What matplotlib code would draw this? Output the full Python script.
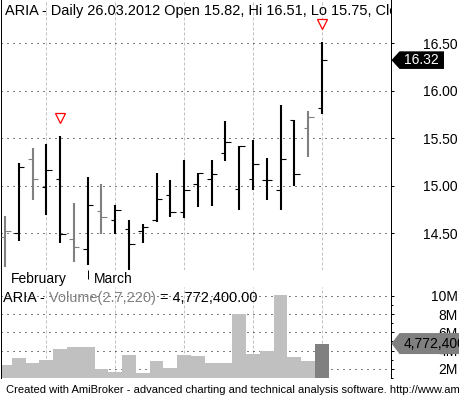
import pandas as pd
import matplotlib
matplotlib.use('Agg')
import matplotlib.pyplot as plt
from matplotlib.patches import Polygon
from matplotlib.transforms import Affine2D, ScaledTranslation, blended_transform_factory

# Arial-like font, dash lengths in points (not scaled with linewidth)
plt.rcParams['font.family'] = ['Liberation Sans', 'DejaVu Sans']
plt.rcParams['lines.scale_dashes'] = False

# ---- data ----
ticker = 'ARIA'
dates = ['2012-02-22', '2012-02-23', '2012-02-24', '2012-02-27', '2012-02-28', '2012-02-29',
         '2012-03-01', '2012-03-02', '2012-03-05', '2012-03-06', '2012-03-07', '2012-03-08',
         '2012-03-09', '2012-03-12', '2012-03-13', '2012-03-14', '2012-03-15', '2012-03-16',
         '2012-03-19', '2012-03-20', '2012-03-21', '2012-03-22', '2012-03-23', '2012-03-26']
opens = [14.46, 14.50, 15.28, 14.98, 15.07, 14.44, 14.33, 14.73, 14.64, 14.54, 14.52, 14.64,
         14.90, 14.72, 15.02, 15.07, 15.34, 14.96, 15.07, 15.06, 14.95, 15.69, 15.61, 15.82]
highs = [14.68, 15.24, 15.39, 15.44, 15.52, 14.82, 15.09, 15.02, 14.79, 14.64, 14.60, 15.13,
         15.06, 15.27, 15.13, 15.27, 15.68, 15.42, 15.48, 15.29, 15.85, 15.69, 15.78, 16.51]
lows = [14.14, 14.42, 14.85, 14.69, 14.39, 14.19, 14.16, 14.49, 14.49, 14.05, 14.40, 14.62,
        14.67, 14.66, 14.77, 14.78, 15.26, 14.74, 14.95, 14.85, 14.74, 15.00, 15.30, 15.75]
closes = [14.52, 15.20, 15.07, 15.16, 14.49, 14.35, 14.79, 14.67, 14.74, 14.38, 14.56, 14.86,
          14.72, 14.95, 15.13, 15.12, 15.46, 15.42, 15.23, 15.06, 15.28, 15.12, 15.72, 16.32]
volumes = [2.43, 3.15, 2.69, 2.96, 4.22, 4.36, 4.43, 1.94, 1.68, 3.57, 1.54, 2.86,
           2.07, 3.50, 3.36, 2.61, 2.61, 7.97, 3.68, 3.93, 10.05, 3.25, 2.86, 4.7724]  # millions
gray_bars = [0, 2, 5, 7, 22]
signal_bars = [4, 23]
price_ticks = [14.5, 15.0, 15.5, 16.0, 16.5]
vol_ticks = [2, 4, 6, 8, 10]
vol_tick_labels = ['2M', '4M', '6M', '8M', '10M']
footer = 'Created with AmiBroker - advanced charting and technical analysis software. http://www.amibroker.com'

W, H = 460, 397
fig = plt.figure(figsize=(W / 100, H / 100), dpi=100)


def px_axes(x0, y0, x1, y1):
    # axes placed by pixel box (top-left origin)
    return fig.add_axes([x0 / W, 1 - y1 / H, (x1 - x0) / W, (y1 - y0) / H])


ax = px_axes(0.5, 0, 391.5, 269.5)
ax_d = px_axes(0.5, 269.5, 391.5, 286.5)
ax_v = px_axes(0.5, 286.5, 391.5, 378)

n = len(dates)
dts = pd.to_datetime(dates)
xs = list(range(n))
xlim = (-0.327, 28.05)
mondays = [i for i in xs if dts[i].weekday() == 0]
bar_cols = ['#808080' if i in gray_bars else 'black' for i in xs]

dot = (0, (0.72, 3.6))
dash = (0, (2.16, 1.44))

for a in (ax, ax_d, ax_v):
    a.set_xlim(*xlim)
    a.set_facecolor('white')
    for s in a.spines.values():
        s.set_linewidth(0.72)
        s.set_color('black')
    a.spines['top'].set_visible(False)
    a.set_xticks([])

# ---- price pane ----
ax.set_ylim(14.116, 16.953)
for m in mondays:
    ax.axvline(m, color='#c0c0c0', lw=0.72, ls=dash, zorder=1)
for p in price_ticks:
    ax.axhline(p, color='black', lw=0.72, ls=dot, zorder=1)
ax.vlines(xs, lows, highs, colors=bar_cols, lw=1.5, capstyle='butt', zorder=3)
ax.hlines(opens, [x - 0.32 for x in xs], xs, colors=bar_cols, lw=0.8, zorder=3)
ax.hlines(closes, xs, [x + 0.4 for x in xs], colors=bar_cols, lw=0.8, zorder=3)
ax.plot(signal_bars, [highs[i] + 0.195 for i in signal_bars], 'v', ms=6.5, mfc='white',
        mec='red', mew=0.9, zorder=4, clip_on=False)

ax.yaxis.tick_right()
ax.set_yticks(price_ticks)
ax.set_yticklabels(['%.2f' % p for p in price_ticks])
ax.tick_params(axis='y', length=2.2, width=0.72, pad=45.5, labelsize=10, labelcolor='black')
for t in ax.yaxis.get_major_ticks():
    t.label2.set_horizontalalignment('right')

o, h, l, c = opens[-1], highs[-1], lows[-1], closes[-1]
title = f'{ticker} - Daily {dts[-1]:%d.%m.%Y} Open {o:.2f}, Hi {h:.2f}, Lo {l:.2f}, Close {c:.2f}'
ax.annotate(title, xy=(0, 1), xycoords='axes fraction', xytext=(3.2, -10.8),
            textcoords='offset points', va='baseline', fontsize=10.45, clip_on=True,
            annotation_clip=False)

# ---- date strip ----
ax_d.set_ylim(0, 1)
ax_d.set_yticks([])
for i in xs:
    if i == 0 or dts[i].month != dts[i - 1].month:
        ax_d.text(i + 0.42, 0.22, dts[i].strftime('%B'), fontsize=10, va='baseline')
        if i > 0:
            ax_d.vlines(i, 0.42, 1, colors='black', lw=0.72)

# ---- volume pane ----
ax_v.set_ylim(1.218, 11.017)
ax_v.spines['bottom'].set_visible(False)
for m in mondays:
    ax_v.axvline(m, color='#c0c0c0', lw=0.72, ls=dash, zorder=0.5)
for v in vol_ticks:
    ax_v.axhline(v, color='black', lw=0.72, ls=dot, zorder=0.5)
vcols = ['#c0c0c0'] * (n - 1) + ['#808080']
ax_v.bar(xs, volumes, width=1.0, color=vcols, lw=0, zorder=2)
ax_v.yaxis.tick_right()
ax_v.set_yticks(vol_ticks)
ax_v.set_yticklabels(vol_tick_labels)
ax_v.set_yticks(range(1, 11), minor=True)
ax_v.tick_params(axis='y', which='major', length=2.2, width=0.72, pad=45.5, labelsize=10)
ax_v.tick_params(axis='y', which='minor', length=1.5, width=0.72)
for t in ax_v.yaxis.get_major_ticks():
    t.label2.set_horizontalalignment('right')

last_v = volumes[-1] * 1e6
t1 = ax_v.annotate(f'{ticker} -', xy=(0, 1), xycoords='axes fraction', xytext=(1.8, -11.2),
                   textcoords='offset points', va='baseline', fontsize=10.45)
t2 = ax_v.annotate(' Volume(2.7,220)', xy=(1, 0), xycoords=t1, va='bottom', fontsize=10.45,
                   color='#808080')
ax_v.annotate(f' = {last_v:,.2f}', xy=(1, 0), xycoords=t2, va='bottom', fontsize=10.45)

# ---- last value labels on the right axis ----
def value_tag(axis, value, text, face, tcol, half, width):
    tr = Affine2D() + ScaledTranslation(1, value, blended_transform_factory(axis.transAxes, axis.transData))
    fig.add_artist(Polygon([(0, 0), (8, half), (width, half), (width, -half), (8, -half)],
                           closed=True, transform=tr, facecolor=face, edgecolor='none', zorder=5))
    fig.text(12.5, 0, text, transform=tr, color=tcol, fontsize=10, va='center', zorder=6)


value_tag(ax, closes[-1], '%.2f' % closes[-1], 'black', 'white', 8.8, 52.5)
value_tag(ax_v, volumes[-1], f'{last_v:,.0f}', '#808080', 'black', 10.5, 90)

fig.text(6 / W, 1 - 393 / H, footer, fontsize=8.0, va='baseline')

fig.savefig('out.png', dpi=100)
